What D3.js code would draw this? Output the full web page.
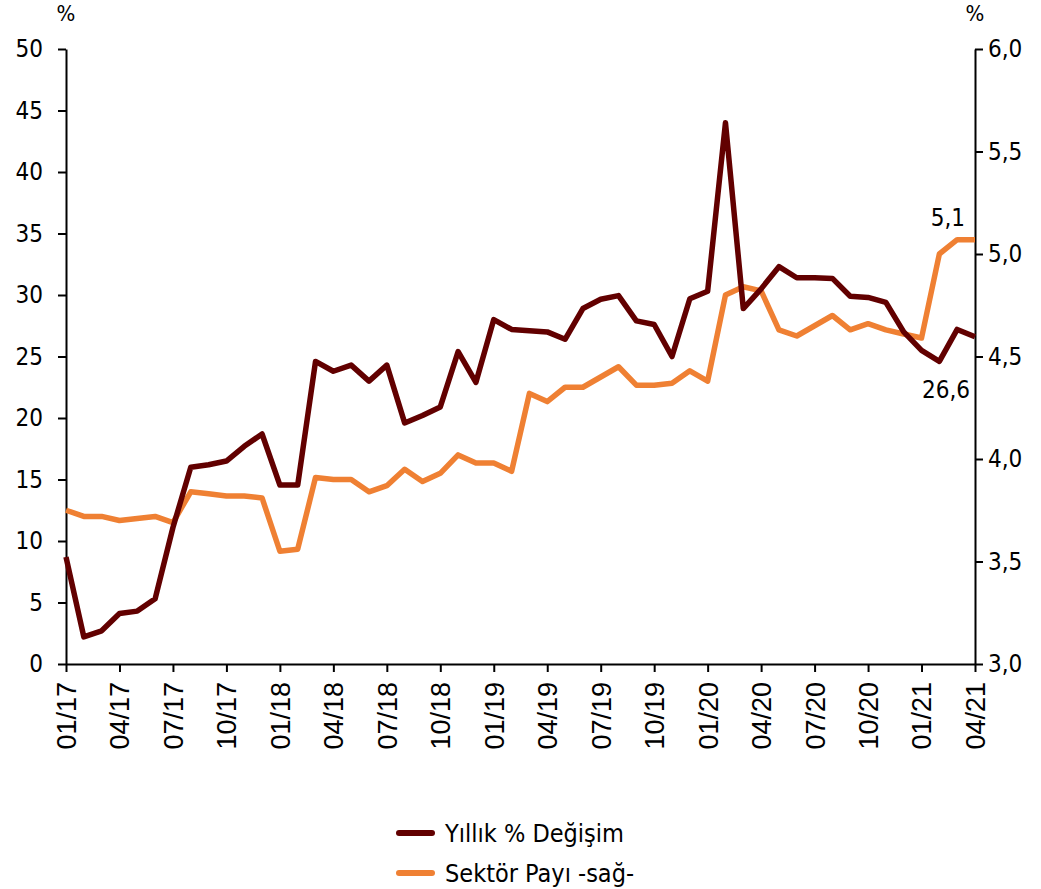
<!DOCTYPE html>
<html>
<head>
<meta charset="utf-8">
<script src="https://cdn.jsdelivr.net/npm/d3@7"></script>
<style>
  html, body { margin: 0; padding: 0; background: #fff; }
  svg { display: block; }
</style>
</head>
<body>
<div id="chart"></div>
<script>
// months 01/17 .. 04/21
const months = [];
for (let y = 17; y <= 21; y++) {
    for (let m = 1; m <= 12; m++) {
        if (y === 21 && m > 4) break;
        months.push(String(m).padStart(2, '0') + '/' + y);
    }
}

// Yıllık % Değişim (left axis)
const annualChange = [
    8.7, 2.2, 2.7, 4.1, 4.3, 5.3, 11.1, 16.0, 16.2, 16.5, 17.7, 18.7,
    14.55, 14.55, 24.6, 23.8, 24.3, 23.0, 24.3, 19.6, 20.2, 20.9, 25.4, 22.9,
    28.0, 27.2, 27.1, 27.0, 26.4, 28.9, 29.65, 29.95, 27.9, 27.6, 25.0, 29.7,
    30.3, 44.0, 28.9, 30.5, 32.3, 31.4, 31.4, 31.35, 29.9, 29.8, 29.4, 27.0,
    25.5, 24.6, 27.2, 26.6
];

// Sektör Payı -sağ- (right axis)
const sectorShare = [
    3.75, 3.72, 3.72, 3.70, 3.71, 3.72, 3.69, 3.84, 3.83, 3.82, 3.82, 3.81,
    3.55, 3.56, 3.91, 3.90, 3.90, 3.84, 3.87, 3.95, 3.89, 3.93, 4.02, 3.98,
    3.98, 3.94, 4.32, 4.28, 4.35, 4.35, 4.40, 4.45, 4.36, 4.36, 4.37, 4.43,
    4.38, 4.80, 4.84, 4.82, 4.63, 4.60, 4.65, 4.70, 4.63, 4.66, 4.63, 4.61,
    4.59, 5.00, 5.07, 5.07
];

const leftTicks = [0, 5, 10, 15, 20, 25, 30, 35, 40, 45, 50];
const rightTicks = [3.0, 3.5, 4.0, 4.5, 5.0, 5.5, 6.0];
const tickMonths = months.filter((d, i) => i % 3 === 0);

const seriesNames = ['Yıllık % Değişim', 'Sektör Payı -sağ-'];
const colors = ['#620000', '#ef8033'];

const W = 1041, H = 889;
const plot = { left: 66, right: 975, top: 49, bottom: 664 };
const labelFont = '"DejaVu Sans Condensed", "DejaVu Sans", sans-serif';
const xFont = '"Liberation Sans", Arial, sans-serif';
const commaFmt = d => d3.format('.1f')(d).replace('.', ',');

const svg = d3.select('#chart').append('svg')
    .attr('width', W)
    .attr('height', H);

const x = d3.scalePoint().domain(months).range([plot.left, plot.right]);
const yL = d3.scaleLinear().domain([0, 50]).range([plot.bottom, plot.top]);
const yR = d3.scaleLinear().domain([3, 6]).range([plot.bottom, plot.top]);

// left axis
const gL = svg.append('g')
    .attr('transform', `translate(${plot.left},0)`)
    .call(d3.axisLeft(yL).tickValues(leftTicks).tickSize(8).tickPadding(15).tickSizeOuter(0));

// right axis
const gR = svg.append('g')
    .attr('transform', `translate(${plot.right},0)`)
    .call(d3.axisRight(yR).tickValues(rightTicks).tickSize(8).tickPadding(5).tickSizeOuter(0)
        .tickFormat(commaFmt));

// bottom axis
const gB = svg.append('g')
    .attr('transform', `translate(0,${plot.bottom})`)
    .call(d3.axisBottom(x).tickValues(tickMonths).tickSize(8).tickSizeOuter(0));

[gL, gR].forEach(g => {
    g.selectAll('text').style('font-family', labelFont).style('font-size', '24px').attr('fill', '#000');
});
[gL, gR, gB].forEach(g => {
    g.select('.domain').attr('stroke', '#000').attr('stroke-width', 2);
    g.selectAll('.tick line').attr('stroke', '#000').attr('stroke-width', 2);
});

gB.selectAll('text')
    .style('font-family', xFont)
    .style('font-size', '27px')
    .attr('fill', '#000')
    .attr('transform', 'rotate(-90)')
    .attr('text-anchor', 'end')
    .attr('x', -18)
    .attr('y', 0)
    .attr('dy', '0.35em');

// unit labels
svg.append('text').attr('x', plot.left).attr('y', 21).attr('text-anchor', 'middle')
    .style('font-family', labelFont).style('font-size', '22px').text('%');
svg.append('text').attr('x', plot.right).attr('y', 21).attr('text-anchor', 'middle')
    .style('font-family', labelFont).style('font-size', '22px').text('%');

// lines
const lineL = d3.line().x((d, i) => x(months[i])).y(d => yL(d));
const lineR = d3.line().x((d, i) => x(months[i])).y(d => yR(d));

svg.append('path')
    .datum(sectorShare)
    .attr('fill', 'none')
    .attr('stroke', colors[1])
    .attr('stroke-width', 5.5)
    .attr('stroke-linejoin', 'round')
    .attr('d', lineR);

svg.append('path')
    .datum(annualChange)
    .attr('fill', 'none')
    .attr('stroke', colors[0])
    .attr('stroke-width', 5.5)
    .attr('stroke-linejoin', 'round')
    .attr('d', lineL);

// end value labels
const last = months.length - 1;
svg.append('text')
    .attr('x', x(months[last]) - 10)
    .attr('y', yR(sectorShare[last]) - 14)
    .attr('text-anchor', 'end')
    .style('font-family', labelFont).style('font-size', '24px')
    .text(commaFmt(sectorShare[last]));

svg.append('text')
    .attr('x', x(months[last]) - 5)
    .attr('y', yL(annualChange[last]) + 61)
    .attr('text-anchor', 'end')
    .style('font-family', labelFont).style('font-size', '24px')
    .text(commaFmt(annualChange[last]));

// legend
const legend = svg.append('g').attr('transform', 'translate(399,833)');
seriesNames.forEach((name, i) => {
    const g = legend.append('g').attr('transform', `translate(0,${i * 40})`);
    g.append('line')
        .attr('x1', 0).attr('x2', 33).attr('y1', 0).attr('y2', 0)
        .attr('stroke', colors[i]).attr('stroke-width', 6).attr('stroke-linecap', 'round');
    g.append('text')
        .attr('x', 46).attr('y', 0).attr('dy', '0.35em')
        .style('font-family', labelFont).style('font-size', '25px')
        .text(name);
});
</script>
</body>
</html>
